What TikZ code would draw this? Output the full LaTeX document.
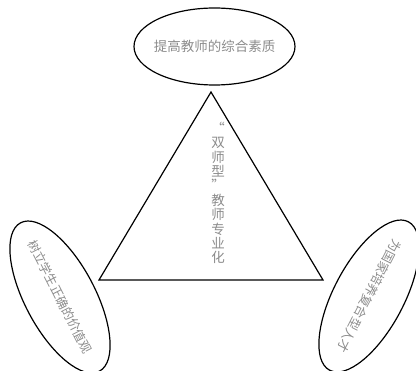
\documentclass[tikz,border=0pt]{standalone}
\usepackage{fontspec}
\newfontfamily\cjk{Noto Sans CJK SC}
\usetikzlibrary{shapes.geometric}
\definecolor{txtgray}{gray}{0.55}

\begin{document}
\begin{tikzpicture}[x=1pt,y=-1pt,
  bubble/.style={draw,ellipse,line width=1.2pt,inner sep=0pt},
  lbl/.style={text=txtgray,inner sep=0pt,font=\cjk\fontsize{13.5}{14.4}\selectfont},
  slant/.style={lbl,font=\cjk\fontsize{12.5}{14}\selectfont}]
\useasboundingbox (0,0) rectangle (416,371);
\coordinate (apex) at (211,92);
\coordinate (bl) at (99,280);
\coordinate (br) at (323,280);
\draw[line width=1.2pt,line join=miter] (apex) -- (bl) -- (br) -- cycle;
\node[lbl,align=center] (mid) at (218,193) {“\\双\\师\\型\\”\\教\\师\\专\\业\\化};
\node[bubble,minimum width=161pt,minimum height=77pt] (top) at (214.5,46.5) {};
\node[lbl] at (top) {提高教师的综合素质};
\node[bubble,minimum width=168pt,minimum height=70pt,rotate=-62] (left) at (60,297) {};
\node[slant,rotate=-63] at (left) {树立学生正确的价值观};
\node[bubble,minimum width=168pt,minimum height=70pt,rotate=-118] (right) at (369,296) {};
\node[slant,rotate=-117] at (right) {为国家培养复合型人才};
\end{tikzpicture}
\end{document}
